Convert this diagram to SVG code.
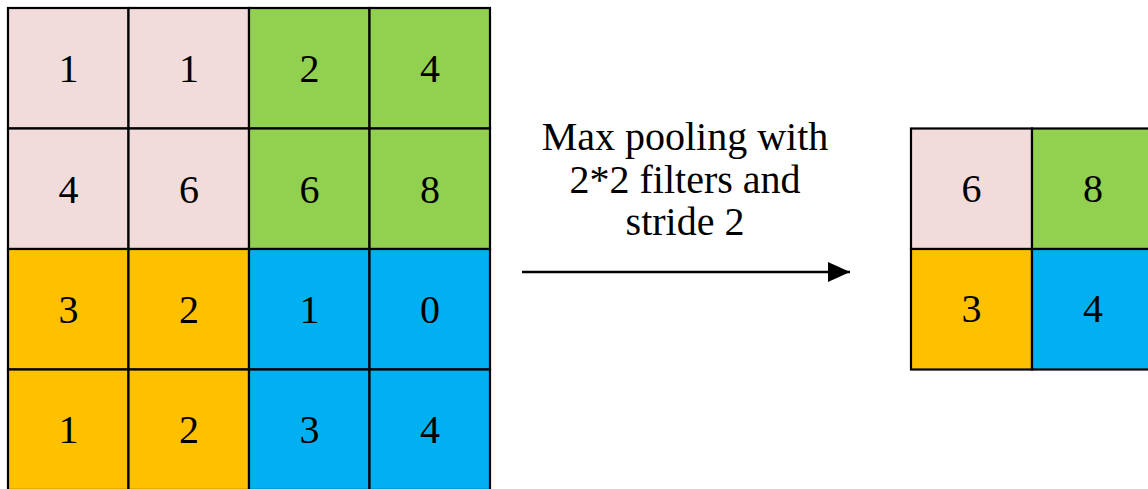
<svg xmlns="http://www.w3.org/2000/svg" width="1148" height="489" viewBox="0 0 1148 489">
  <style>
    .cell { stroke: #000; stroke-width: 2.2; }
    .pink { fill: #F2DCDB; }
    .green { fill: #92D050; }
    .orange { fill: #FFC000; }
    .blue { fill: #00B0F0; }
    .t { font-family: "Liberation Serif", "Times New Roman", Times, Tinos, "Nimbus Roman", "Noto Serif", "DejaVu Serif", FreeSerif, serif; font-size: 40px; fill: #000; text-anchor: middle; }
  </style>
  <defs>
    <marker id="arrowhead" viewBox="0 0 22 20" refX="22" refY="10" markerWidth="22" markerHeight="20" markerUnits="userSpaceOnUse" orient="auto">
      <path d="M0,0 L22,10 L0,20 Z" fill="#000"/>
    </marker>
  </defs>
  <rect width="1148" height="489" fill="#fff"/>

  <!-- Input feature map 4x4 -->
  <g id="input-grid">
    <g id="in-0-0"><rect class="cell pink" x="8" y="8" width="120.5" height="120.5"/><text class="t" x="68.5" y="82">1</text></g>
    <g id="in-0-1"><rect class="cell pink" x="128.5" y="8" width="120.5" height="120.5"/><text class="t" x="189" y="82">1</text></g>
    <g id="in-0-2"><rect class="cell green" x="249" y="8" width="120.5" height="120.5"/><text class="t" x="309.5" y="82">2</text></g>
    <g id="in-0-3"><rect class="cell green" x="369.5" y="8" width="120.5" height="120.5"/><text class="t" x="430" y="82">4</text></g>

    <g id="in-1-0"><rect class="cell pink" x="8" y="128.5" width="120.5" height="120.5"/><text class="t" x="68.5" y="202.5">4</text></g>
    <g id="in-1-1"><rect class="cell pink" x="128.5" y="128.5" width="120.5" height="120.5"/><text class="t" x="189" y="202.5">6</text></g>
    <g id="in-1-2"><rect class="cell green" x="249" y="128.5" width="120.5" height="120.5"/><text class="t" x="309.5" y="202.5">6</text></g>
    <g id="in-1-3"><rect class="cell green" x="369.5" y="128.5" width="120.5" height="120.5"/><text class="t" x="430" y="202.5">8</text></g>

    <g id="in-2-0"><rect class="cell orange" x="8" y="249" width="120.5" height="120.5"/><text class="t" x="68.5" y="323">3</text></g>
    <g id="in-2-1"><rect class="cell orange" x="128.5" y="249" width="120.5" height="120.5"/><text class="t" x="189" y="323">2</text></g>
    <g id="in-2-2"><rect class="cell blue" x="249" y="249" width="120.5" height="120.5"/><text class="t" x="309.5" y="323">1</text></g>
    <g id="in-2-3"><rect class="cell blue" x="369.5" y="249" width="120.5" height="120.5"/><text class="t" x="430" y="323">0</text></g>

    <g id="in-3-0"><rect class="cell orange" x="8" y="369.5" width="120.5" height="120.5"/><text class="t" x="68.5" y="443">1</text></g>
    <g id="in-3-1"><rect class="cell orange" x="128.5" y="369.5" width="120.5" height="120.5"/><text class="t" x="189" y="443">2</text></g>
    <g id="in-3-2"><rect class="cell blue" x="249" y="369.5" width="120.5" height="120.5"/><text class="t" x="309.5" y="443">3</text></g>
    <g id="in-3-3"><rect class="cell blue" x="369.5" y="369.5" width="120.5" height="120.5"/><text class="t" x="430" y="443">4</text></g>
  </g>

  <!-- Operation label -->
  <g id="label">
    <text class="t" x="685" y="150">Max pooling with</text>
    <text class="t" x="685" y="192.5">2*2 filters and</text>
    <text class="t" x="685" y="235">stride 2</text>
  </g>

  <!-- Pooled output 2x2 -->
  <g id="output-grid">
    <g id="out-0-0"><rect class="cell pink" x="911" y="128.5" width="121" height="120.5"/><text class="t" x="971.5" y="202">6</text></g>
    <g id="out-0-1"><rect class="cell green" x="1032" y="128.5" width="121" height="120.5"/><text class="t" x="1093" y="202">8</text></g>
    <g id="out-1-0"><rect class="cell orange" x="911" y="249" width="121" height="120.5"/><text class="t" x="971.5" y="322">3</text></g>
    <g id="out-1-1"><rect class="cell blue" x="1032" y="249" width="121" height="120.5"/><text class="t" x="1093" y="322">4</text></g>
  </g>

  <!-- Connector -->
  <g id="connectors">
    <line x1="522" y1="272" x2="850" y2="272" stroke="#000" stroke-width="2.4" marker-end="url(#arrowhead)"/>
  </g>
</svg>
